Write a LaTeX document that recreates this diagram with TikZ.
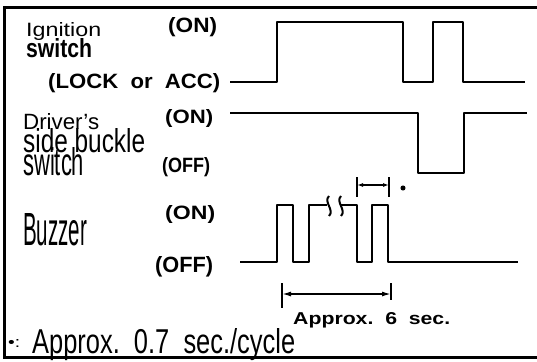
\documentclass[tikz,border=0pt]{standalone}
\usepackage{fontspec}
\setmainfont{Liberation Sans}
\usetikzlibrary{arrows.meta}

\newcommand{\sizedtext}[3]{\resizebox{#1}{#2}{#3}}

\tikzset{
  wave/.style={line width=2.6pt, line join=round},
  lbl/.style={anchor=base west, inner sep=0pt},
  statelbl/.style={lbl, font=\bfseries},
  breakmark/.style={line width=2pt},
  dimtick/.style={line width=1.3pt},
  dimline/.style={line width=1.5pt, {Latex[length=9pt,width=5pt]}-{Latex[length=9pt,width=5pt]}},
  cycline/.style={line width=1.3pt, {Latex[length=6pt,width=4pt]}-{Latex[length=6pt,width=4pt]}}
}

\begin{document}
\begin{tikzpicture}[x=1pt,y=-1pt]
  \useasboundingbox (0,0) rectangle (537,361);
  % frame
  \draw[line width=3pt] (540,8) -- (4,8) -- (4,357) -- (540,357);

  % signal names
  \node[lbl] (ign) at (26,37) {\sizedtext{75pt}{14pt}{Ignition}};
  \node[lbl] (ignsw) at (26,57) {\sizedtext{66pt}{19pt}{\bfseries switch}};
  \node[lbl] (drv) at (23,129) {\sizedtext{76pt}{16pt}{Driver’s}};
  \node[lbl] (side) at (23,152) {\sizedtext{122pt}{24pt}{side buckle}};
  \node[lbl] (drvsw) at (23,175) {\sizedtext{61pt}{28pt}{switch}};
  \node[lbl] (buz) at (23,245) {\sizedtext{64pt}{32pt}{Buzzer}};

  % states
  \node[statelbl] (ignon) at (168,33) {\sizedtext{49pt}{15pt}{(ON)}};
  \node[statelbl] (ignoff) at (48,88) {\sizedtext{172pt}{15pt}{(LOCK\ \ or\ \ ACC)}};
  \node[statelbl] (drvon) at (165,123) {\sizedtext{48pt}{14pt}{(ON)}};
  \node[statelbl] (drvoff) at (162,172) {\sizedtext{48pt}{15pt}{(OFF)}};
  \node[statelbl] (buzon) at (165,219) {\sizedtext{50pt}{14pt}{(ON)}};
  \node[statelbl] (buzoff) at (155,272) {\sizedtext{58pt}{16pt}{(OFF)}};

  % ignition switch
  \draw[wave] (230,82) -- (277,82) -- (277,22) -- (403,22) -- (403,82)
    -- (433,82) -- (433,22) -- (463,22) -- (463,82) -- (525,82);
  % driver's side buckle switch
  \draw[wave] (230,113) -- (418,113) -- (418,173) -- (464,173)
    -- (464,113) -- (527,113);
  % buzzer
  \draw[wave] (240,262) -- (277,262) -- (277,205) -- (293,205) -- (293,262)
    -- (309,262) -- (309,205) -- (327,205);
  \draw[breakmark] (329,196) .. controls (323,202) and (335,210) .. (329,216);
  \draw[breakmark] (341,196) .. controls (335,202) and (347,210) .. (341,216);
  \draw[wave] (340,205) -- (357,205) -- (357,262) -- (372,262) -- (372,205)
    -- (388,205) -- (388,262) -- (518,262);

  % one cycle
  \coordinate (cycA) at (357,185);
  \coordinate (cycB) at (389,185);
  \draw[dimtick] (357,177) -- (357,197);
  \draw[dimtick] (389,177) -- (389,197);
  \draw[cycline] (cycA) -- (cycB);
  \node[circle, fill, inner sep=1.8pt] (mark) at (403,188) {};

  % total time
  \coordinate (sixA) at (282,294);
  \coordinate (sixB) at (391,294);
  \draw[dimtick] (282,283) -- (282,308);
  \draw[dimtick] (391,283) -- (391,300);
  \draw[dimline] (sixA) -- (sixB);
  \node[statelbl] (sixsec) at (293,324) {\sizedtext{157pt}{12pt}{Approx.\ \ 6\ \ sec.}};

  % note
  \node[lbl] (star) at (8,347) {\sizedtext{12pt}{8pt}{•:}};
  \node[lbl] (note) at (32,353) {\sizedtext{263pt}{25pt}{Approx.\ \ 0.7\ \ sec./cycle}};
\end{tikzpicture}
\end{document}
